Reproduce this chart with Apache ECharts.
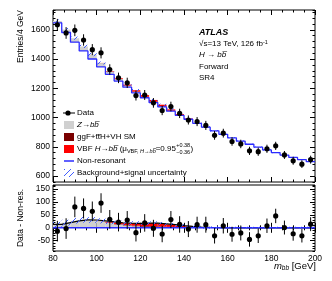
<!DOCTYPE html>
<html><head><meta charset="utf-8">
<script src="https://cdn.jsdelivr.net/npm/echarts@6/dist/echarts.min.js"></script>
<style>html,body{margin:0;padding:0;background:#fff}#c{width:332px;height:281px}</style>
</head><body><div id="c"></div>
<script>
// ---- data (4 GeV bins, 80-200 GeV) ----
const binCenters = [82,86,90,94,98,102,106,110,114,118,122,126,130,134,138,142,146,150,154,158,162,166,170,174,178,182,186,190,194,198];
const dataValues = [1635,1579,1597,1531,1465,1443,1329,1272,1238,1151,1155,1101,1049,1076,1029,984,973,947,879,894,837,820,773,767,787,807,745,705,682,713];
const dataErrors = [40,40,40,39,38,38,36,36,35,34,34,33,32,33,32,31,31,31,30,30,29,29,28,28,28,28,27,27,26,27];
const nonResonant = [1648,1582,1516,1456,1401,1347,1296,1250,1208,1170,1136,1103,1073,1044,1016,989,961,935,910,886,862,840,818,798,779,761,744,728,713,699];
const zToBB = [13,20,27,31,30,26,19,13,9,6,4,3,2,1.5,1,0.5,0.3,0,0,0,0,0,0,0,0,0,0,0,0,0];
const ggfTthVh = [0,0,0,0,0.3,0.6,1,1.5,2,2.5,3,3,2.5,2,1.5,1,0.6,0.3,0,0,0,0,0,0,0,0,0,0,0,0];
const vbfHbb = [0,0,0,0,0,0.5,3,5,7,9,11,12,11,9,6,4,2,1,0.5,0,0,0,0,0,0,0,0,0,0,0];
const modelUnc = [10,11,11,11,11,10,9,8,8,8,7,7,7,6,6,5,5,5,5,4,4,4,4,4,4,4,4,4,4,4];
const xTickLabels = [80,100,120,140,160,180,200];
const yTopTickLabels = [600,800,1000,1200,1400,1600];
const yBottomTickLabels = [-50,0,50,100,150];
const halfBin = 2;

const FONT = '"Liberation Sans", Arial, Helvetica, sans-serif';
const BLUE = '#2b2bff';

// hatch pattern
const hc = document.createElement('canvas'); hc.width = 6; hc.height = 6;
const hx = hc.getContext('2d'); hx.strokeStyle = '#3f5cff'; hx.lineWidth = 1;
for (const k of [-6, 0, 6]) { hx.beginPath(); hx.moveTo(k, 6); hx.lineTo(k + 6, 0); hx.stroke(); }
const HATCH = { image: hc, repeat: 'repeat' };

function rectSeries(xi, yi, items, fill, z) {
  return { type: 'custom', xAxisIndex: xi, yAxisIndex: yi, data: items, clip: true, z: z,
    encode: { x: [0, 1], y: [2, 3] }, silent: true,
    renderItem: (p, api) => {
      const a = api.coord([api.value(0), api.value(3)]);
      const b = api.coord([api.value(1), api.value(2)]);
      return { type: 'rect', shape: { x: a[0], y: a[1], width: b[0] - a[0], height: b[1] - a[1] }, style: { fill: fill } };
    } };
}
function pointSeries(xi, yi, items) {
  return { type: 'custom', xAxisIndex: xi, yAxisIndex: yi, data: items, clip: true, z: 20,
    encode: { x: 0, y: 1 }, silent: true,
    renderItem: (p, api) => {
      const x = api.value(0), y = api.value(1), e = api.value(2);
      const c = api.coord([x, y]), lo = api.coord([x, y - e]), hi = api.coord([x, y + e]);
      return { type: 'group', children: [
        { type: 'line', shape: { x1: c[0], y1: lo[1], x2: c[0], y2: hi[1] }, style: { stroke: '#000', lineWidth: 1 } },
        { type: 'circle', shape: { cx: c[0], cy: c[1], r: 2.6 }, style: { fill: '#000' } }
      ] };
    } };
}
function stepSeries(xi, yi, vals, color, width, z) {
  const d = binCenters.map((c, i) => [c - halfBin, vals[i]]);
  d.push([binCenters[binCenters.length - 1] + halfBin, vals[vals.length - 1]]);
  return { type: 'line', xAxisIndex: xi, yAxisIndex: yi, data: d, step: 'end', symbol: 'none', z: z,
    lineStyle: { color: color, width: width }, silent: true, animation: false };
}

// derived stacks
const top1 = nonResonant.map((v, i) => v + zToBB[i]);
const top2 = top1.map((v, i) => v + ggfTthVh[i]);
const top3 = top2.map((v, i) => v + vbfHbb[i]);
const sig1 = zToBB.slice();
const sig2 = sig1.map((v, i) => v + ggfTthVh[i]);
const sig3 = sig2.map((v, i) => v + vbfHbb[i]);
const residual = dataValues.map((v, i) => v - nonResonant[i]);

const R = (lo, hi) => binCenters.map((c, i) => [c - halfBin, c + halfBin, lo[i], hi[i]]);

const series = [
  rectSeries(0, 0, R(nonResonant, top1), '#d0d0d0', 2),
  rectSeries(0, 0, R(top1, top2), '#7a0000', 3),
  rectSeries(0, 0, R(top2, top3), '#ff0000', 4),
  rectSeries(0, 0, R(top3.map((v, i) => v - modelUnc[i]), top3.map((v, i) => v + modelUnc[i])), HATCH, 5),
  stepSeries(0, 0, nonResonant, BLUE, 1.3, 6),
  pointSeries(0, 0, binCenters.map((c, i) => [c, dataValues[i], dataErrors[i]])),

  rectSeries(2, 4, R(binCenters.map(() => 0), sig1), '#d0d0d0', 2),
  rectSeries(2, 4, R(sig1, sig2), '#7a0000', 3),
  rectSeries(2, 4, R(sig2, sig3), '#ff0000', 4),
  stepSeries(2, 4, sig3, '#000', 1.2, 5),
  { type: 'line', xAxisIndex: 2, yAxisIndex: 4, data: [[xTickLabels[0], 0], [xTickLabels[xTickLabels.length - 1], 0]], symbol: 'none', z: 6,
    lineStyle: { color: BLUE, width: 1.5 }, silent: true },
  rectSeries(2, 4, R(sig3.map((v, i) => v - modelUnc[i]), sig3.map((v, i) => v + modelUnc[i])), HATCH, 7),
  pointSeries(2, 4, binCenters.map((c, i) => [c, residual[i], dataErrors[i]]))
];

const axFont = { fontFamily: FONT, fontSize: 8.5, color: '#000' };
function xAx(grid, pos, labels) {
  return { type: 'value', gridIndex: grid, position: pos, min: 80, max: 200, interval: 20,
    axisLine: { show: false }, splitLine: { show: false },
    axisTick: { show: true, inside: true, length: 5, lineStyle: { color: '#000' } },
    minorTick: { show: true, splitNumber: 4, length: 2.5, lineStyle: { color: '#000' } },
    axisLabel: Object.assign({ show: labels, margin: 3 }, axFont) };
}
function yMajor(grid, pos, min, max, minorInt, vals, labels) {
  return { type: 'value', gridIndex: grid, position: pos, min: min, max: max, interval: minorInt,
    axisLine: { show: false }, splitLine: { show: false },
    axisTick: { show: true, inside: true, length: 5, customValues: vals, lineStyle: { color: '#000' } },
    axisLabel: Object.assign({ show: labels, margin: 3, customValues: vals,
      formatter: v => (vals.indexOf(v) >= 0 ? String(v) : '') }, axFont) };
}
function yMinor(grid, pos, min, max, minorInt) {
  return { type: 'value', gridIndex: grid, position: pos, min: min, max: max, interval: minorInt,
    axisLine: { show: false }, splitLine: { show: false },
    axisTick: { show: true, inside: true, length: 2.5, lineStyle: { color: '#000' } },
    axisLabel: { show: false } };
}

function txt(x, y, text, o) {
  return { type: 'text', x: x, y: y, z: 100, silent: true,
    style: Object.assign({ text: text, fontFamily: FONT, fontSize: 8, fill: '#000', align: 'left', verticalAlign: 'middle' }, o || {}) };
}
const mc = document.createElement('canvas').getContext('2d');
function tw(t, size, style) { mc.font = (style || 'normal') + ' normal ' + size + 'px ' + FONT; return mc.measureText(t).width; }

const OV = '\u0305';
const LX = 77;
const graphics = [
  // y titles
  Object.assign(txt(21, 10, 'Entries/4 GeV', { fontSize: 8.5, align: 'right' }), { rotation: Math.PI / 2 }),
  Object.assign(txt(21, 218, 'Data - Non-res.', { fontSize: 8.5, align: 'center' }), { rotation: Math.PI / 2 }),
  // x title
  txt(316, 266, '{i|m}{s|bb} [GeV]', { fontSize: 9.5, align: 'right',
    rich: { i: { fontStyle: 'italic', fontSize: 9.5, fontFamily: FONT }, s: { fontStyle: 'italic', fontSize: 6.5, verticalAlign: 'bottom', fontFamily: FONT, padding: [4, 0, 0, 0] } } }),
  // ATLAS block
  txt(199, 33, 'ATLAS', { fontSize: 9, fontStyle: 'italic', fontWeight: 'bold' }),
  txt(199, 44, '{n|\u221As=13 TeV, 126 fb}{u|-1}', { rich: { n: { fontSize: 8, fontFamily: FONT }, u: { fontSize: 5.5, fontFamily: FONT, verticalAlign: 'top', padding: [0, 0, 3, 0] } } }),
  txt(199, 55, '{i|H} \u2192 {i|bb' + OV + '}', { rich: { i: { fontStyle: 'italic', fontSize: 8, fontFamily: FONT } } }),
  txt(199, 67, 'Forward'),
  txt(199, 78, 'SR4'),
  // legend symbols
  { type: 'line', shape: { x1: 63, y1: 113, x2: 75, y2: 113 }, style: { stroke: '#000', lineWidth: 1 }, z: 100 },
  { type: 'circle', shape: { cx: 68, cy: 113, r: 2.6 }, style: { fill: '#000' }, z: 100 },
  { type: 'rect', shape: { x: 64, y: 121, width: 10, height: 8 }, style: { fill: '#d0d0d0' }, z: 100 },
  { type: 'rect', shape: { x: 64, y: 133, width: 10, height: 8 }, style: { fill: '#7a0000' }, z: 100 },
  { type: 'rect', shape: { x: 64, y: 145, width: 10, height: 8 }, style: { fill: '#ff0000' }, z: 100 },
  { type: 'line', shape: { x1: 64, y1: 161, x2: 74, y2: 161 }, style: { stroke: BLUE, lineWidth: 1.5 }, z: 100 },
  { type: 'rect', shape: { x: 64, y: 169, width: 10, height: 8 }, style: { fill: HATCH }, z: 100 },
  // legend texts
  txt(LX, 113, 'Data'),
  txt(LX, 125, '{i|Z}\u2192{i|bb' + OV + '}', { rich: { i: { fontStyle: 'italic', fontSize: 8, fontFamily: FONT } } }),
  txt(LX, 137, 'ggF+tt' + OV + 'H+VH SM'),
  txt(LX, 161, 'Non-resonant'),
  txt(LX, 173, 'Background+signal uncertainty')
];
// VBF legend line with sub/superscripts
(function () {
  const y = 149;
  const rA = { n: { fontSize: 8, fontFamily: FONT }, i: { fontStyle: 'italic', fontSize: 8, fontFamily: FONT } };
  graphics.push(txt(LX, y, '{n|VBF }{i|H}{n|\u2192}{i|bb' + OV + '}{n| (\u03BC}', { rich: rA }));
  const wA = tw('VBF ', 8) + tw('H', 8, 'italic') + tw('\u2192', 8) + tw('bb' + OV, 8, 'italic') + tw(' (\u03BC', 8);
  const rB = { n: { fontSize: 5.5, fontFamily: FONT }, i: { fontStyle: 'italic', fontSize: 5.5, fontFamily: FONT } };
  const xB = LX + wA;
  graphics.push(txt(xB, y + 2.5, '{n|VBF, }{i|H}{n|\u2192}{i|bb' + OV + '}', { rich: rB }));
  const wB = tw('VBF, ', 5.5) + tw('H', 5.5, 'italic') + tw('\u2192', 5.5) + tw('bb' + OV, 5.5, 'italic');
  const xC = xB + wB;
  graphics.push(txt(xC, y, '=0.95'));
  const xD = xC + tw('=0.95', 8) + 0.3;
  graphics.push(txt(xD, y - 3.5, '+0.38', { fontSize: 5.5 }));
  graphics.push(txt(xD, y + 3, '\u22120.36', { fontSize: 5.5 }));
  const xE = xD + Math.max(tw('+0.38', 5.5), tw('\u22120.36', 5.5)) + 0.3;
  graphics.push(txt(xE, y, ')'));
})();

const chart = echarts.init(document.getElementById('c'), null, { renderer: 'canvas' });
chart.setOption({
  animation: false,
  backgroundColor: '#fff',
  grid: [
    { left: 53, right: 17, top: 10, height: 172, show: true, borderColor: '#000', borderWidth: 1, backgroundColor: 'transparent', containLabel: false, outerBoundsMode: 'none' },
    { left: 53, right: 17, top: 185, height: 66, show: true, borderColor: '#000', borderWidth: 1, backgroundColor: 'transparent', containLabel: false, outerBoundsMode: 'none' }
  ],
  xAxis: [xAx(0, 'bottom', false), xAx(0, 'top', false), xAx(1, 'bottom', true), xAx(1, 'top', false)],
  yAxis: [
    yMajor(0, 'left', 560, 1736, 40, yTopTickLabels, true),
    yMinor(0, 'left', 560, 1736, 40),
    yMajor(0, 'right', 560, 1736, 40, yTopTickLabels, false),
    yMinor(0, 'right', 560, 1736, 40),
    yMajor(1, 'left', -90, 166, 10, yBottomTickLabels, true),
    yMinor(1, 'left', -90, 166, 10),
    yMajor(1, 'right', -90, 166, 10, yBottomTickLabels, false),
    yMinor(1, 'right', -90, 166, 10)
  ],
  series: series,
  graphic: { elements: graphics }
});
</script>
</body></html>
